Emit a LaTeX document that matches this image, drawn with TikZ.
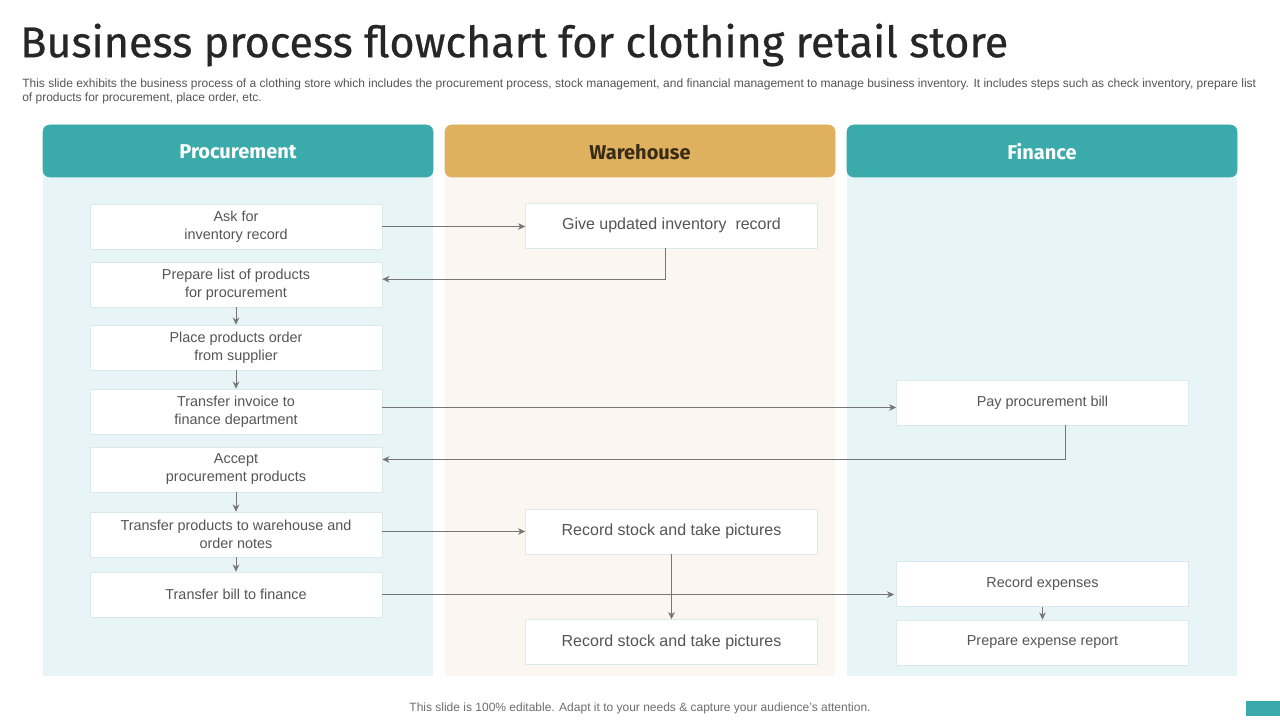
\documentclass[tikz,border=0pt]{standalone}
\usepackage{fontspec}
\setmainfont{Liberation Sans}
\newfontfamily\headfont{Fira Sans}
\newfontfamily\titlefont[FakeBold=0.6]{Fira Sans}
\usetikzlibrary{positioning,arrows.meta}
\definecolor{tealhead}{HTML}{3AAAAB}
\definecolor{tealbody}{HTML}{E7F5F6}
\definecolor{goldhead}{HTML}{DFB05E}
\definecolor{goldbody}{HTML}{FBF6EF}
\definecolor{linegray}{HTML}{767676}
\definecolor{textgray}{HTML}{555555}
\definecolor{boxline}{HTML}{DCE8EA}
\begin{document}
\begin{tikzpicture}
		[x=0.75pt,y=-0.75pt,
		lanehead/.style={rounded corners=4pt,inner sep=0pt,font=\headfont\bfseries\fontsize{15}{18}\selectfont},
		task/.style={draw=boxline,line width=0.4pt,fill=white,minimum width=219pt,minimum height=33.75pt,
			inner sep=2pt,align=center,text=textgray,font=\fontsize{10.8}{13.5}\selectfont},
		bigtask/.style={task,font=\fontsize{12}{14}\selectfont},
		flow/.style={draw=linegray,line width=0.75pt,-{Stealth[length=5.5pt,width=5pt]}}]
		\useasboundingbox[fill=white] (0,0) rectangle (1280,720);
		% title and subtitle
		\node[anchor=west,inner sep=0pt,text=black!85,font=\titlefont\fontsize{32.3}{38}\selectfont] (title) at (20,45)
			{Business process flowchart for clothing retail store};
		\node[anchor=north west,inner sep=0pt,align=left,text=textgray,font=\fontsize{9}{10.5}\selectfont] (intro) at (22,79)
			{This slide exhibits the business process of a clothing store which includes the procurement process, stock management, and financial management to manage business inventory. It includes steps such as check inventory, prepare list\\
			of products for procurement, place order, etc.};
		% lanes
		\fill[tealbody] (43,172) rectangle (433,676);
		\fill[goldbody] (445,172) rectangle (835,676);
		\fill[tealbody] (847,172) rectangle (1237,676);
		\filldraw[tealhead,rounded corners=5pt] (43,125) rectangle (433,177);
		\filldraw[goldhead,rounded corners=5pt] (445,125) rectangle (835,177);
		\filldraw[tealhead,rounded corners=5pt] (847,125) rectangle (1237,177);
		\node[lanehead,text=white] (proc) at (238,152) {Procurement};
		\node[lanehead,text=black!75!goldhead] (ware) at (640,152) {Warehouse};
		\node[lanehead,text=white] (fin) at (1042,152) {Finance};
		% procurement steps
		\node[task] (p1) at (236,226.5) {Ask for\\inventory record};
		\node[task] (p2) at (236,284.5) {Prepare list of products\\for procurement};
		\node[task] (p3) at (236,347.5) {Place products order\\from supplier};
		\node[task] (p4) at (236,411.5) {Transfer invoice to\\finance department};
		\node[task] (p5) at (236,469.5) {Accept\\procurement products};
		\node[task] (p6) at (236,534.5) {Transfer products to warehouse and\\order notes};
		\node[task] (p7) at (236,594.5) {Transfer bill to finance};
		% warehouse steps
		\node[bigtask] (w1) at (671.5,225.5) {Give updated inventory~ record};
		\node[bigtask] (w2) at (671.5,531.5) {Record stock and take pictures};
		\node[bigtask] (w3) at (671.5,642) {Record stock and take pictures};
		% finance steps
		\node[task] (f1) at (1042.5,402.5) {Pay procurement bill};
		\node[task] (f2) at (1042.5,584) {Record expenses};
		\node[task] (f3) at (1042.5,642.5) {Prepare expense report};
		% connectors
		\draw[flow] (p1.east) -- (p1.east -| w1.west);
		\draw[flow] ([xshift=-4.5pt]w1.south) |- ([yshift=4pt]p2.east);
		\draw[flow] (p2) -- (p3);
		\draw[flow] (p3) -- (p4);
		\draw[flow] ([yshift=3pt]p4.east) -- ([yshift=3pt]p4.east -| f1.west);
		\draw[flow] ([xshift=17.6pt]f1.south) |- ([yshift=7.5pt]p5.east);
		\draw[flow] (p5) -- (p6);
		\draw[flow] (p6) -- (p7);
		\draw[flow] (p6.east |- w2.west) -- (w2.west);
		\draw[flow] (w2) -- (w3);
		\draw[flow] (p7.east) -- ([xshift=-1.5pt]p7.east -| f2.west);
		\draw[flow] (f2) -- (f3);
		% footer
		\node[text=textgray!85,font=\fontsize{9}{10}\selectfont] (foot) at (640,708)
			{This slide is 100\% editable. Adapt it to your needs \& capture your audience’s attention.};
		\fill[tealhead] (1246,701) rectangle (1280,716);
	\end{tikzpicture}
\end{document}
